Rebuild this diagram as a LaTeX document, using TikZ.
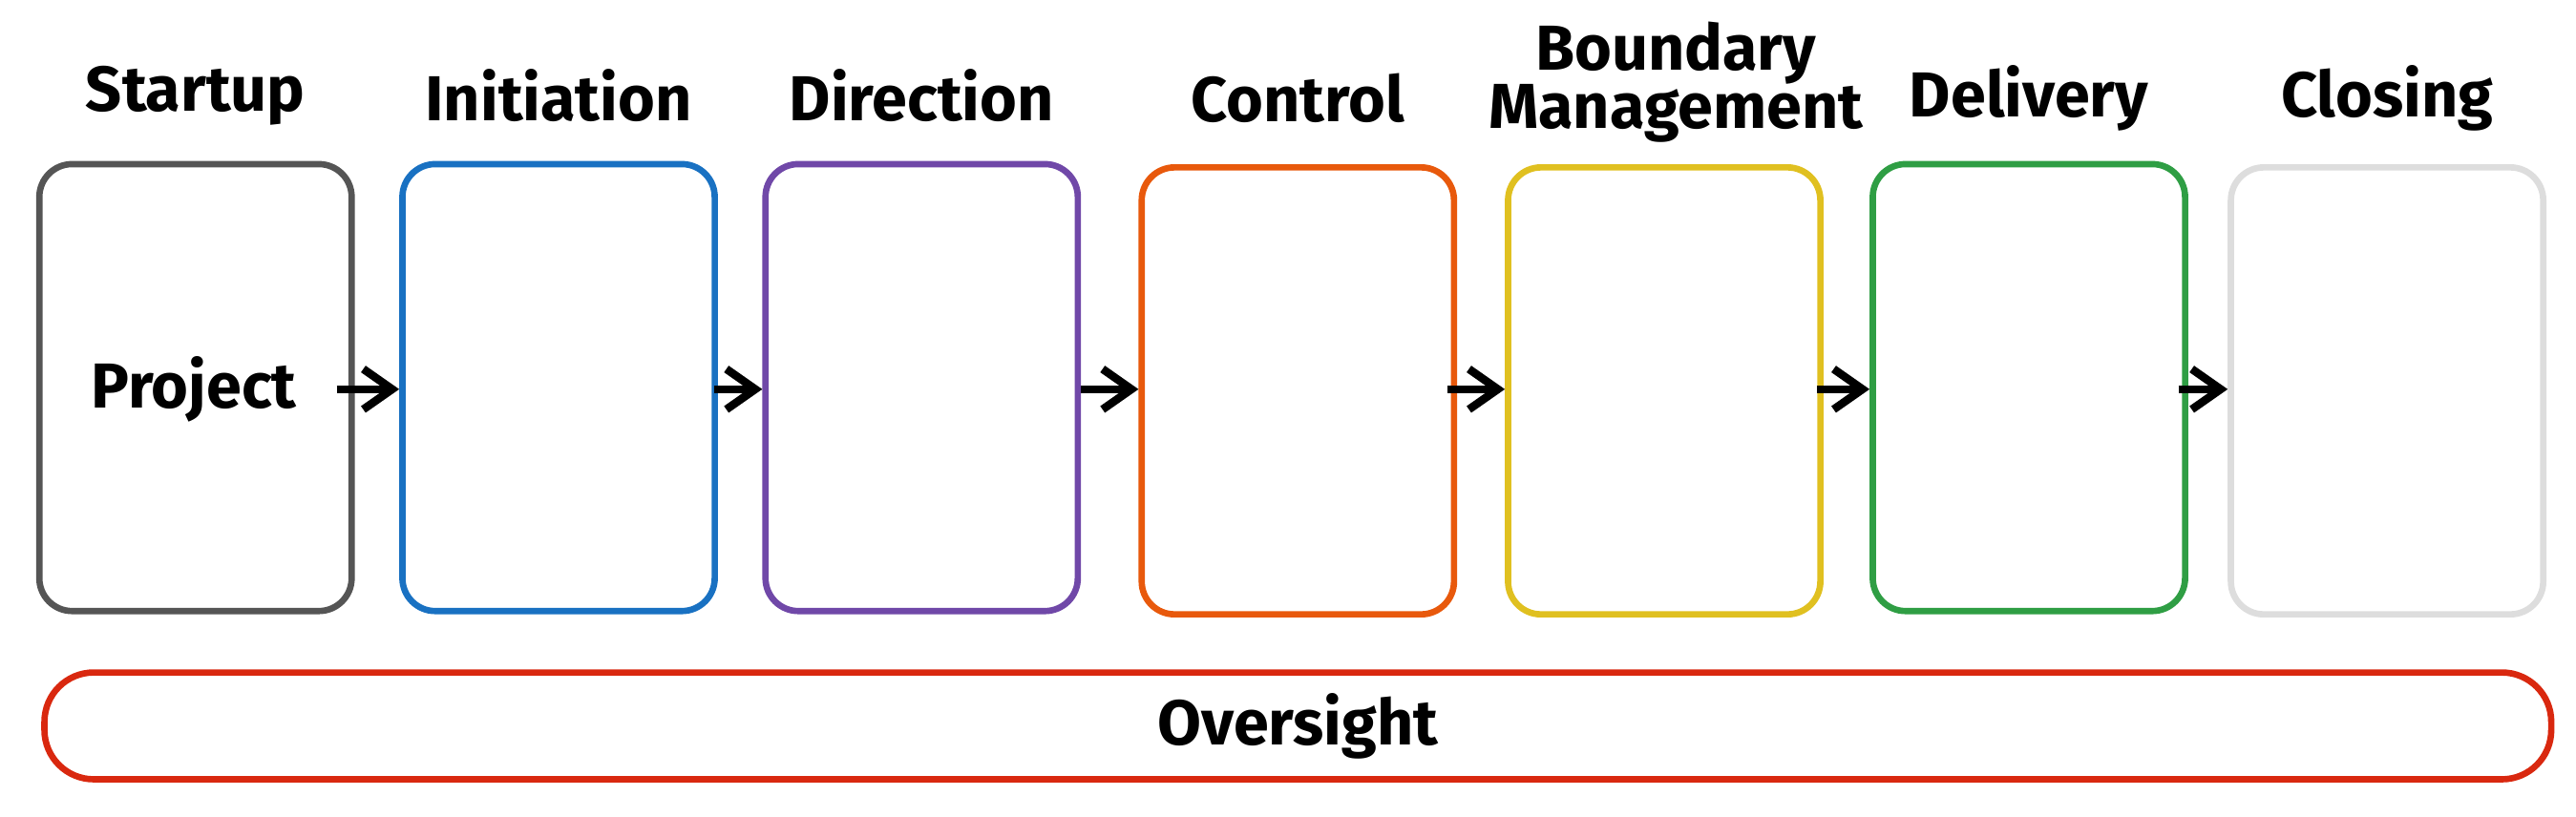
\documentclass[tikz,border=0pt]{standalone}
\usepackage{fontspec}
\setmainfont{Fira Sans}
\usetikzlibrary{arrows.meta}
\begin{document}
\begin{tikzpicture}[x=0.01cm,y=-0.01cm,
  box/.style={draw, line width=1.1pt, rounded corners=0.2cm, minimum width=1.9cm, minimum height=2.72cm, inner sep=0pt},
  ttl/.style={font=\fontsize{11}{12}\selectfont\bfseries, align=center},
  arr/.style={-{Straight Barb[length=5pt,width=7pt]}, line width=1.4pt, black}]
\useasboundingbox (0,0) rectangle (1568,497);
\definecolor{cA}{HTML}{555555}\definecolor{cB}{HTML}{1971C2}\definecolor{cC}{HTML}{7048A8}
\definecolor{cD}{HTML}{E8590C}\definecolor{cE}{HTML}{E0C020}\definecolor{cF}{HTML}{2F9E44}
\definecolor{cG}{HTML}{DDDDDD}\definecolor{cH}{HTML}{D9280F}
\node[box,draw=cA] (b1) at (119,236) {};
\node[box,draw=cB] (b2) at (340,236) {};
\node[box,draw=cC] (b3) at (561,236) {};
\node[box,draw=cD] (b4) at (790,238) {};
\node[box,draw=cE] (b5) at (1013,238) {};
\node[box,draw=cF] (b6) at (1235,236) {};
\node[box,draw=cG] (b7) at (1453,238) {};
\node[ttl] (t1) at (119,58) {Startup};
\node[ttl] (t2) at (340,58) {Initiation};
\node[ttl] (t3) at (561,58) {Direction};
\node[ttl] (t4) at (790,60) {Control};
\node[ttl, inner sep=0pt] (t5) at (1020,50) {Boundary\\[-2pt]Management};
\node[ttl] (t6) at (1235,60) {Delivery};
\node[ttl] (t7) at (1453,60) {Closing};
\node[ttl] (p) at (118,237) {Project};
\draw[arr] (205,237) -- (b2.west |- 0,237);
\draw[arr] (435,237) -- (b3.west |- 0,237);
\draw[arr] (658,237) -- (b4.west |- 0,237);
\draw[arr] (881,237) -- (b5.west |- 0,237);
\draw[arr] (1106,237) -- (b6.west |- 0,237);
\draw[arr] (1326,237) -- (b7.west |- 0,237);
\node[draw=cH, line width=1.1pt, rounded corners=0.3cm, minimum width=15.25cm, minimum height=0.65cm, ttl] (o) at (790,442) {Oversight};
\end{tikzpicture}
\end{document}
